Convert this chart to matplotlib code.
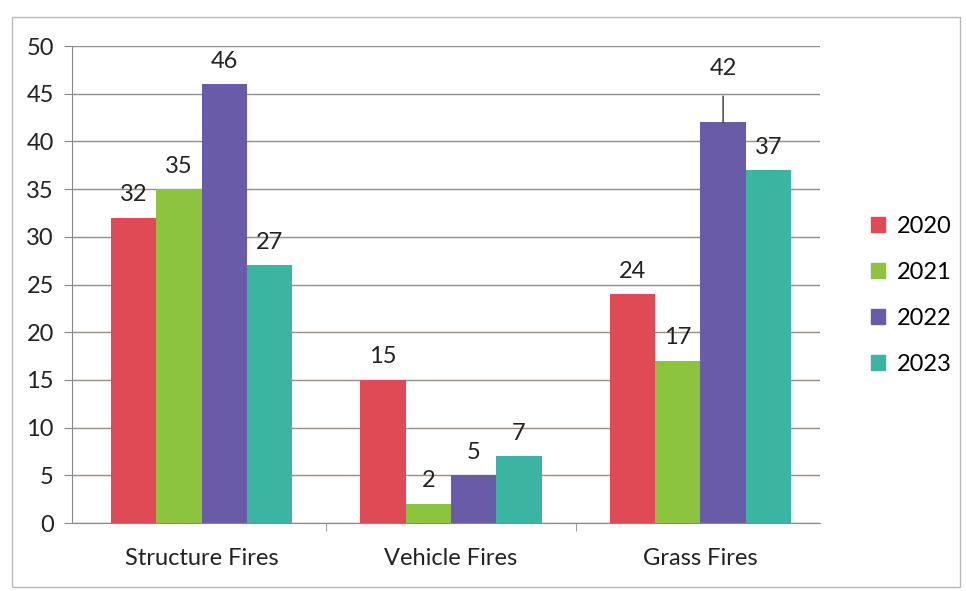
import numpy as np
import matplotlib.pyplot as plt
from matplotlib.patches import Rectangle, Patch

# --------- Daten ------------
kategorien = ['Structure Fires', 'Vehicle Fires', 'Grass Fires']
jahre = ['2020', '2021', '2022', '2023']
werte_2020 = [32, 15, 24]
werte_2021 = [35, 2, 17]
werte_2022 = [46, 5, 42]
werte_2023 = [27, 7, 37]
y_ticks = [0, 5, 10, 15, 20, 25, 30, 35, 40, 45, 50]

farben = ['#e04a55', '#8cc43f', '#6a5ba8', '#3cb4a2']
serien = [werte_2020, werte_2021, werte_2022, werte_2023]

plt.rcParams['font.family'] = ['Lato', 'DejaVu Sans']
fs = 17

fig = plt.figure(figsize=(9.66, 5.91), dpi=100)
fig.patches.append(Rectangle((0.012, 0.006), 0.982, 0.966, transform=fig.transFigure,
                             fill=False, edgecolor='#b8b8b8', linewidth=1.0))
ax = fig.add_axes([0.0745, 0.115, 0.7745, 0.807])

x = np.arange(len(kategorien))
b = 1 / 5.5
for i, (werte, farbe) in enumerate(zip(serien, farben)):
    pos = x + (i - 1.5) * b
    ax.bar(pos, werte, width=b, color=farbe, zorder=3)
    for k, (p, v) in enumerate(zip(pos, werte)):
        if i == 2 and k == 2:
            # verschobenes Label mit Fuehrungslinie
            ax.annotate(str(v), xy=(p, v), xytext=(p, 47.6), ha='center', va='center',
                        fontsize=fs, color='#222222',
                        arrowprops=dict(arrowstyle='-', color='#333333', lw=1.0,
                                        shrinkA=10, shrinkB=0))
        else:
            ax.annotate(str(v), xy=(p, v), xytext=(0, 9), textcoords='offset points',
                        ha='center', va='bottom', fontsize=fs, color='#222222')

ax.set_xlim(-0.52, 2.48)
ax.set_ylim(0, 50)
ax.set_yticks(y_ticks)
ax.yaxis.grid(True, color='#978c86', linewidth=1.0, zorder=0)
ax.set_axisbelow(True)
ax.tick_params(axis='y', labelsize=fs, length=6, color='#888888', pad=7, labelcolor='#222222')
ax.set_xticks(x)
ax.set_xticklabels(kategorien, fontsize=fs, color='#222222')
ax.tick_params(axis='x', length=0, pad=18)
ax.set_xticks([0.5, 1.5], minor=True)
ax.tick_params(axis='x', which='minor', length=6, color='#888888')
for s in ['top', 'right']:
    ax.spines[s].set_visible(False)
ax.spines['left'].set_color('#888888')
ax.spines['bottom'].set_color('#888888')

handles = [Patch(color=c, label=j) for c, j in zip(farben, jahre)]
fig.legend(handles=handles, loc='center left', bbox_to_anchor=(0.88, 0.5), frameon=False,
           fontsize=fs, handlelength=0.6, handleheight=0.6, labelspacing=1.05, handletextpad=0.5)

fig.savefig('out.png', dpi=100)
